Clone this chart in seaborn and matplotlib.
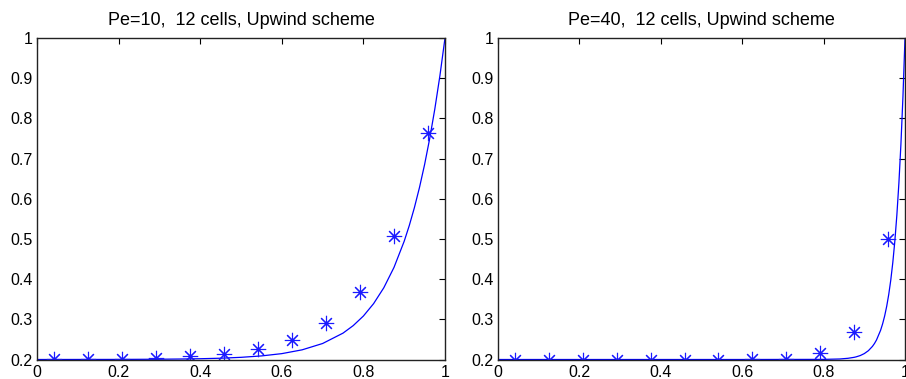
import matplotlib
matplotlib.use("Agg")
import matplotlib.pyplot as plt
import seaborn as sns
import pandas as pd

# Exact solution curves (x, phi) and upwind cell-centre values for two Peclet numbers
exact_x_pe10 = [0.0, 0.1, 0.2, 0.3, 0.35, 0.4, 0.45, 0.5, 0.55, 0.6, 0.65, 0.7, 0.75,
                0.775, 0.8, 0.825, 0.85, 0.875, 0.9, 0.9125, 0.925, 0.9375, 0.95,
                0.9625, 0.975, 0.9875, 1.0]
exact_y_pe10 = [0.2, 0.2001, 0.2002, 0.2007, 0.2012, 0.2019, 0.2032, 0.2054, 0.2089,
                0.2146, 0.2241, 0.2398, 0.2656, 0.2843, 0.3082, 0.3390, 0.3785, 0.4292,
                0.4943, 0.5335, 0.5779, 0.6282, 0.6852, 0.7498, 0.8231, 0.906, 1.0]

exact_x_pe40 = [0.0, 0.2, 0.4, 0.6, 0.8, 0.84, 0.86, 0.875, 0.88, 0.89, 0.9, 0.91, 0.92,
                0.925, 0.93, 0.94, 0.945, 0.95, 0.955, 0.96, 0.965, 0.97, 0.975, 0.98,
                0.985, 0.99, 0.995, 1.0]
exact_y_pe40 = [0.2, 0.2, 0.2, 0.2, 0.2003, 0.2013, 0.203, 0.2054, 0.2066, 0.2098, 0.2147,
                0.2219, 0.2326, 0.2398, 0.2486, 0.2726, 0.2887, 0.3083, 0.3322, 0.3615,
                0.3973, 0.441, 0.4943, 0.5595, 0.639, 0.7363, 0.855, 1.0]

cell_x = [0.0417, 0.125, 0.2083, 0.2917, 0.375, 0.4583, 0.5417, 0.625, 0.7083,
          0.7917, 0.875, 0.9583]
upwind_pe10 = [0.2003, 0.2009, 0.2020, 0.2040, 0.2077, 0.2145, 0.2269, 0.2496,
               0.2912, 0.3675, 0.5075, 0.7635]
upwind_pe40 = [0.2, 0.2, 0.2, 0.2, 0.2, 0.2, 0.2, 0.2001, 0.2006, 0.2152, 0.268, 0.5]

titles = ["Pe=10,  12 cells, Upwind scheme", "Pe=40,  12 cells, Upwind scheme"]
x_ticks = [0, 0.2, 0.4, 0.6, 0.8, 1]
x_tick_labels = ["0", "0.2", "0.4", "0.6", "0.8", "1"]
y_ticks = [0.2, 0.3, 0.4, 0.5, 0.6, 0.7, 0.8, 0.9, 1]
y_tick_labels = ["0.2", "0.3", "0.4", "0.5", "0.6", "0.7", "0.8", "0.9", "1"]

sns.set_style("white")
plt.rcParams["font.family"] = ["Liberation Sans", "DejaVu Sans"]

fig = plt.figure(figsize=(9.06, 3.79), dpi=100)
W, H = 906, 379
bottom = (H - 359.5) / H
height = (359.5 - 38) / H
ax1 = fig.add_axes([37 / W, bottom, 408 / W, height])
ax2 = fig.add_axes([498 / W, bottom, 407 / W, height])

panels = [
    (ax1, exact_x_pe10, exact_y_pe10, upwind_pe10, titles[0]),
    (ax2, exact_x_pe40, exact_y_pe40, upwind_pe40, titles[1]),
]

for ax, ex, ey, uy, title in panels:
    exact = pd.DataFrame({"x": ex, "phi": ey})
    upwind = pd.DataFrame({"x": cell_x, "phi": uy})
    sns.lineplot(data=exact, x="x", y="phi", ax=ax, color=(0, 0, 1),
                 linewidth=0.9, sort=False, estimator=None)
    sns.lineplot(data=upwind, x="x", y="phi", ax=ax, color=(0, 0, 1),
                 linestyle="", marker=(8, 2, 0), markersize=11,
                 markeredgewidth=0.8, markeredgecolor=(0.1, 0.1, 1),
                 sort=False, estimator=None)
    ax.set_xlim(0, 1)
    ax.set_ylim(0.2, 1)
    ax.set_xticks(x_ticks)
    ax.set_xticklabels(x_tick_labels)
    ax.set_yticks(y_ticks)
    ax.set_yticklabels(y_tick_labels)
    ax.set_xlabel("")
    ax.set_ylabel("")
    ax.set_title(title, fontsize=13, pad=9.5, color="black")
    ax.tick_params(direction="in", length=4, width=0.8, top=True, right=True,
                   labelsize=11.5, colors="black")
    ax.tick_params(axis="x", pad=4)
    ax.tick_params(axis="y", pad=3)
    for sp in ax.spines.values():
        sp.set_visible(True)
        sp.set_color("#222222")
        sp.set_linewidth(1.0)

fig.savefig("out.png", dpi=100)
